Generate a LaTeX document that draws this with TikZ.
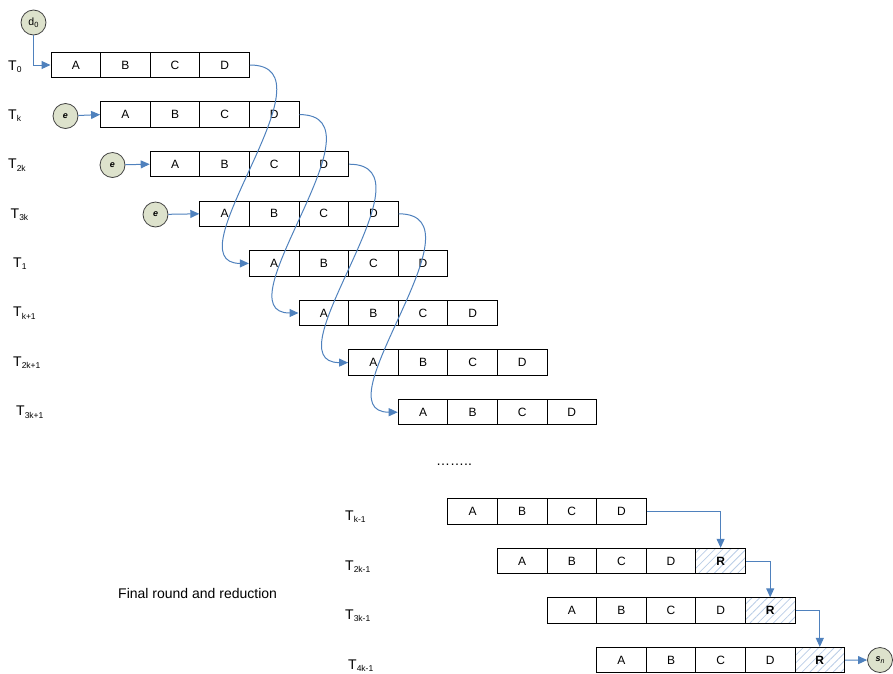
\documentclass[tikz,border=0pt]{standalone}
\usepackage{fontspec}
\setmainfont{Liberation Sans}
\usetikzlibrary{patterns.meta,arrows.meta}
\definecolor{lblue}{HTML}{4F81BD}
\definecolor{cfill}{HTML}{DDE2CC}
\definecolor{hatch}{HTML}{BACDE6}
\newcommand\lsub[1]{\raisebox{-2.5pt}{\fontsize{8.5}{8.5}\selectfont #1}}
\begin{document}
\begin{tikzpicture}[x=1pt,y=-1pt,
  cell/.style={draw=black, line width=1pt, minimum width=49.6pt, minimum height=25.5pt, inner sep=0pt, font=\fontsize{12}{12}\selectfont},
  rcell/.style={cell, pattern={Lines[angle=45,distance=5.5pt,line width=0.8pt]}, pattern color=hatch, font=\fontsize{12}{12}\selectfont\bfseries},
  tlabel/.style={anchor=base west, inner sep=0pt, font=\fontsize{14}{14}\selectfont},
  circ/.style={circle, draw=black!75, line width=0.8pt, fill=cfill, minimum size=25pt, inner sep=0pt},
  flow/.style={draw=lblue, line width=1pt, -{Triangle[length=9pt,width=8pt]}},
  note/.style={inner sep=0pt, font=\fontsize{14}{14}\selectfont},
]
\useasboundingbox (0,0) rectangle (893,673);
% rows of cells
\foreach \n/\i/\j in {a/0/0,b/1/1,c/2/2,d/3/3,e/4/4,f/5/5,g/6/6,h/7/7,w/8/9,x/9/10,y/10/11,z/11/12}
  \foreach \l [count=\k from 0] in {A,B,C,D}
    \node[cell] (\n\l) at ({51+49.6*(\i+\k)+24.8}, {65+49.6*\j}) {\l};
% reduction cells
\node[rcell] (xR) at ({51+49.6*13+24.8},{65+49.6*10}) {R};
\node[rcell] (yR) at ({51+49.6*14+24.8},{65+49.6*11}) {R};
\node[rcell] (zR) at ({51+49.6*15+24.8},{65+49.6*12}) {R};
% row labels
\node[tlabel] (l0) at (8,70) {T\lsub{0}};
\node[tlabel] (l1) at (8,119) {T\lsub{k}};
\node[tlabel] (l2) at (8,168.5) {T\lsub{2k}};
\node[tlabel] (l3) at (10.5,218) {T\lsub{3k}};
\node[tlabel] (l4) at (13,267) {T\lsub{1}};
\node[tlabel] (l5) at (13,316.5) {T\lsub{k+1}};
\node[tlabel] (l6) at (13,366) {T\lsub{2k+1}};
\node[tlabel] (l7) at (16,415.5) {T\lsub{3k+1}};
\node[tlabel] (l8) at (345,520) {T\lsub{k-1}};
\node[tlabel] (l9) at (345,570) {T\lsub{2k-1}};
\node[tlabel] (l10) at (345,619) {T\lsub{3k-1}};
\node[tlabel] (l11) at (348,669) {T\lsub{4k-1}};
% circles
\node[circ] (d0) at (33.5,22.5) {\fontsize{10.5}{10.5}\selectfont d\raisebox{-1.5pt}{\fontsize{7.5}{7.5}\selectfont 0}};
\node[circ] (e1) at (65.5,116) {\fontsize{9}{9}\selectfont\bfseries\itshape e};
\node[circ] (e2) at (112.5,165) {\fontsize{9}{9}\selectfont\bfseries\itshape e};
\node[circ] (e3) at (155.5,214.5) {\fontsize{9}{9}\selectfont\bfseries\itshape e};
\node[circ] (sn) at (880,660) {\fontsize{9}{9}\selectfont\bfseries\itshape s\raisebox{-1.5pt}{\fontsize{7}{7}\selectfont\mdseries n}};
% texts
\node[note, anchor=base west] (dots) at (436,465) {……..};
\node[note, anchor=base west] (fin) at (118,598) {Final round and reduction};
% input arrows
\draw[flow] (d0.south) |- (aA.west);
\draw[flow] (e1) -- (bA.west);
\draw[flow] (e2) -- (cA.west);
\draw[flow] (e3) -- (dA.west);
% feedback curves
\draw[flow] (aD.east) .. controls +(90,0) and +(-80,0) .. (eA.west);
\draw[flow] (bD.east) .. controls +(90,0) and +(-80,0) .. (fA.west);
\draw[flow] (cD.east) .. controls +(90,0) and +(-80,0) .. (gA.west);
\draw[flow] (dD.east) .. controls +(90,0) and +(-80,0) .. (hA.west);
% reduction chain
\draw[flow] (wD.east) -| (xR.north);
\draw[flow] (xR.east) -| (yR.north);
\draw[flow] (yR.east) -| (zR.north);
\draw[flow] (zR.east) -- (sn.west);
\end{tikzpicture}
\end{document}
